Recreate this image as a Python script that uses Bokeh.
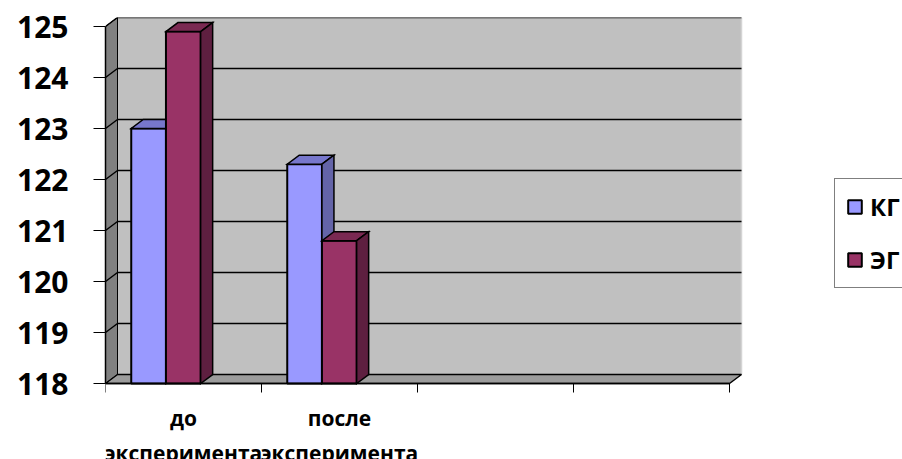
from bokeh.plotting import figure
from bokeh.models import Range1d, FixedTicker, Legend, LegendItem, Label
from bokeh.embed import file_html
from bokeh.resources import INLINE

# Chart data
categories = ["до\nэксперимента", "после\nэксперимента", "", ""]
series_names = ["КГ", "ЭГ"]
kg_values = [123.0, 122.3]
eg_values = [124.9, 120.8]
y_ticks = [118, 119, 120, 121, 122, 123, 124, 125]

# Layout in pixels
WIDTH, HEIGHT = 902, 459
LEFT, TOP = 105, 17
CAT_PX = 156.0          # width of one category slot
UNIT_PX = 51.0          # height of one y unit
AXIS_Y_PX = 383         # screen row of the category axis

# Pseudo-3D depth and bar geometry (in axis units)
Y_MIN, Y_MAX = y_ticks[0], y_ticks[-1]
N_CAT = len(categories)
DEPTH_X = 12 / CAT_PX
DEPTH_Y = 9 / UNIT_PX
BAR_W = 0.2225
GROUP_GAP = 0.165
FONT = "Open Sans"

front_colors = ["#9999FF", "#993366"]
top_colors = ["#7777CC", "#7A2952"]
side_colors = ["#6464A8", "#5E1F40"]

x_end = (WIDTH - LEFT) / CAT_PX
y_start = Y_MIN - (HEIGHT - AXIS_Y_PX) / UNIT_PX

p = figure(
    width=WIDTH, height=HEIGHT,
    x_range=Range1d(0, x_end),
    y_range=Range1d(y_start, Y_MAX + DEPTH_Y),
    output_backend="svg", toolbar_location=None,
    min_border_left=LEFT, min_border_right=0,
    min_border_top=TOP, min_border_bottom=0,
)
p.outline_line_color = None
p.background_fill_color = "white"
p.border_fill_color = "white"
p.xgrid.visible = False
p.ygrid.visible = False

# Back wall
p.quad(left=DEPTH_X, right=N_CAT + DEPTH_X, bottom=Y_MIN + DEPTH_Y, top=Y_MAX + DEPTH_Y,
       fill_color="#C0C0C0", line_color=None)
p.segment(x0=N_CAT + DEPTH_X, y0=Y_MIN + DEPTH_Y, x1=N_CAT + DEPTH_X, y1=Y_MAX + DEPTH_Y,
          line_color="#D4D4D4", line_width=1.5)

# Left side wall
p.patch(x=[0, DEPTH_X, DEPTH_X, 0],
        y=[Y_MIN, Y_MIN + DEPTH_Y, Y_MAX + DEPTH_Y, Y_MAX],
        fill_color="#808080", line_color="#000000", line_width=1)

# Floor
p.patch(x=[0, DEPTH_X, N_CAT + DEPTH_X, N_CAT],
        y=[Y_MIN, Y_MIN + DEPTH_Y, Y_MIN + DEPTH_Y, Y_MIN],
        fill_color="#9C9C9C", line_color="#000000", line_width=1.5)

# Gridlines on back wall and side wall
grid_t = y_ticks[1:]
p.segment(x0=[DEPTH_X] * len(grid_t), y0=[t + DEPTH_Y for t in grid_t],
          x1=[N_CAT + DEPTH_X] * len(grid_t), y1=[t + DEPTH_Y for t in grid_t],
          line_color="#000000", line_width=1.5)
p.segment(x0=[0] * len(grid_t), y0=grid_t,
          x1=[DEPTH_X] * len(grid_t), y1=[t + DEPTH_Y for t in grid_t],
          line_color="#000000", line_width=1.5)

# Bars: front, top and right faces
legend_items = []
for k, (name, values) in enumerate(zip(series_names, [kg_values, eg_values])):
    left = [i + GROUP_GAP + k * BAR_W for i in range(len(values))]
    right = [l + BAR_W for l in left]
    front = p.quad(left=left, right=right, bottom=Y_MIN, top=values,
                   fill_color=front_colors[k], line_color="#000000", line_width=2)
    top_xs = [[l, r, r + DEPTH_X, l + DEPTH_X] for l, r in zip(left, right)]
    top_ys = [[v, v, v + DEPTH_Y, v + DEPTH_Y] for v in values]
    p.patches(xs=top_xs, ys=top_ys, fill_color=top_colors[k],
              line_color="#000000", line_width=1.5, line_join="miter")
    side_xs = [[r, r, r + DEPTH_X, r + DEPTH_X] for r in right]
    side_ys = [[Y_MIN, v, v + DEPTH_Y, Y_MIN + DEPTH_Y] for v in values]
    p.patches(xs=side_xs, ys=side_ys, fill_color=side_colors[k],
              line_color="#000000", line_width=1.5, line_join="miter")
    legend_items.append(LegendItem(label=name, renderers=[front]))

# Value axis
ya = p.yaxis[0]
ya.ticker = FixedTicker(ticks=y_ticks, minor_ticks=[])
ya.bounds = (Y_MIN, Y_MAX)
ya.axis_line_color = "#000000"
ya.axis_line_width = 1.5
ya.major_tick_out = 12
ya.major_tick_in = 0
ya.major_tick_line_color = "#000000"
ya.major_label_standoff = 25
ya.major_label_text_font = FONT
ya.major_label_text_font_style = "bold"
ya.major_label_text_font_size = "30px"
ya.major_label_text_color = "#000000"

# Category axis, pinned to the floor's front edge
xa = p.xaxis[0]
xa.fixed_location = Y_MIN
xa.ticker = FixedTicker(ticks=list(range(N_CAT + 1)), minor_ticks=[])
xa.bounds = (0, N_CAT)
xa.axis_line_color = "#000000"
xa.axis_line_width = 1.5
xa.major_tick_out = 9
xa.major_tick_in = 0
xa.major_tick_line_color = "#000000"
xa.major_label_overrides = {i: "" for i in range(N_CAT + 1)}

# Category labels, centred in each category slot
for i, cat in enumerate(categories):
    if cat:
        p.add_layout(Label(x=i + 0.5, y=Y_MIN, text=cat, text_align="center",
                           text_baseline="top", y_offset=-20,
                           text_font=FONT, text_font_style="bold",
                           text_font_size="21px", text_color="#000000",
                           text_line_height=1.25))

legend = Legend(items=legend_items, location=(834 - LEFT, HEIGHT - 288),
                label_text_font=FONT, label_text_font_style="bold",
                label_text_font_size="24px", label_text_color="#000000",
                glyph_width=17, glyph_height=17, label_height=29,
                label_standoff=7, padding=11, spacing=20, margin=0,
                border_line_color="#000000", border_line_width=1,
                background_fill_color="white", background_fill_alpha=1.0)
p.add_layout(legend, "center")

open("out.html", "w").write(file_html(p, INLINE))
